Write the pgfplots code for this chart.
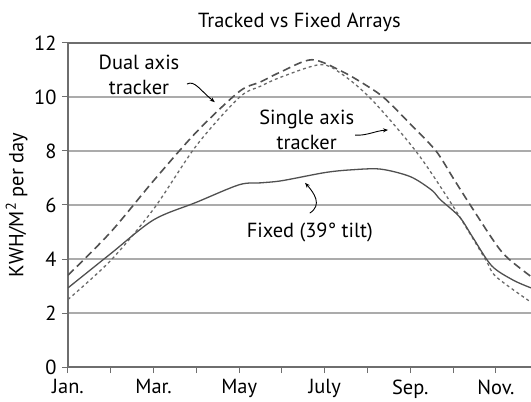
\documentclass[border=0pt]{standalone}
\usepackage{fontspec}
\setmainfont{PT Sans}
\usepackage{pgfplots}
\pgfplotsset{compat=1.18}
\usetikzlibrary{arrows.meta}

\definecolor{curve}{HTML}{505050}
\definecolor{gridc}{HTML}{ABABAB}
\definecolor{axc}{HTML}{6E6E6E}

\pgfplotstableread{
x y
0 3.4
1 5.0
2 6.9
3 8.7
4 10.2
4.5 10.56
5 10.95
5.7 11.38
6.4 10.95
7 10.4
7.4 9.95
8 9.0
8.6 8.0
9 7.0
9.4 6.0
10 4.55
10.3 4.0
10.82 3.35
}\dualaxis

\pgfplotstableread{
x y
0 2.5
1 3.95
2 5.85
3 8.2
4 9.98
4.5 10.4
5 10.75
5.9 11.2
6.4 10.85
7.1 9.9
8.15 7.95
9 5.95
9.75 4.0
10 3.35
10.82 2.4
}\singleaxis

\pgfplotstableread{
x y
0 2.93
1 4.2
2 5.45
3 6.1
4 6.75
4.5 6.82
5 6.9
6 7.2
6.6 7.3
7.3 7.33
8 7.05
8.5 6.55
8.7 6.2
9.15 5.56
9.46 4.8
9.9 3.75
10.4 3.22
10.82 2.93
}\fixedtilt

\begin{document}
\begin{tikzpicture}[font=\fontsize{20.5}{24}\selectfont]
\begin{axis}[
    scale only axis,
    width=463bp, height=324bp,
    xmin=0, xmax=10.82,
    ymin=0, ymax=12,
    axis x line*=bottom,
    axis y line*=left,
    axis line style={axc, line width=1.4bp},
    ytick={0,2,...,12},
    xtick={0,2,...,10},
    xticklabels={Jan.,Mar.,May,July,Sep.,Nov.},
    minor xtick={1,3,...,9},
    ymajorgrids,
    major grid style={gridc, line width=1.4bp},
    tick style={axc, line width=1bp},
    tick align=outside,
    major tick length=6bp,
    minor tick length=6bp,
    xticklabel style={yshift=-3bp},
    yticklabel style={xshift=-2bp},
    /pgf/number format/assume math mode=true,
    title={Tracked vs Fixed Arrays},
    every axis title/.style={at={(axis description cs:0.5,1)}, anchor=base, yshift=15bp},
    ylabel={KWH/M\textsuperscript{2} per day},
    every axis y label/.style={at={(axis description cs:-0.111,0.5)}, rotate=90, anchor=center},
]
\addplot[curve, line width=1.6bp, dash pattern=on 8bp off 4.5bp, smooth] table {\dualaxis};
\addplot[curve!85, line width=1.3bp, dash pattern=on 3bp off 3bp, smooth] table {\singleaxis};
\addplot[curve, line width=1.3bp, smooth] table {\fixedtilt};

\draw[axc, line width=1.4bp] (axis cs:0,12) -- (axis cs:10.82,12);

\node[align=center, font=\fontsize{20.5}{26}\selectfont] at (axis cs:1.66,10.82) {Dual axis\\tracker};
\node[align=center, font=\fontsize{20.5}{25}\selectfont] at (axis cs:5.58,8.8) {Single axis\\tracker};
\node at (axis cs:5.65,5.0) {Fixed (39° tilt)};

\draw[black, line width=0.9bp, -{Stealth[length=5bp,width=4bp]}]
  (axis cs:2.78,10.48) .. controls (axis cs:2.96,10.63) and (axis cs:3.08,10.26) .. (axis cs:3.43,9.81);
\draw[black, line width=0.9bp, -{Stealth[length=5bp,width=4bp]}]
  (axis cs:6.71,8.59) .. controls (axis cs:6.95,8.55) and (axis cs:7.2,8.75) .. (axis cs:7.48,8.78);
\draw[black, line width=0.9bp, -{Stealth[length=5bp,width=4bp]}]
  (axis cs:5.65,5.70) .. controls (axis cs:5.95,6.0) and (axis cs:5.75,6.45) .. (axis cs:5.54,6.82);
\end{axis}
\pgfresetboundingbox
\useasboundingbox (-68bp,-35bp) rectangle (463bp,367bp);
\end{tikzpicture}
\end{document}
